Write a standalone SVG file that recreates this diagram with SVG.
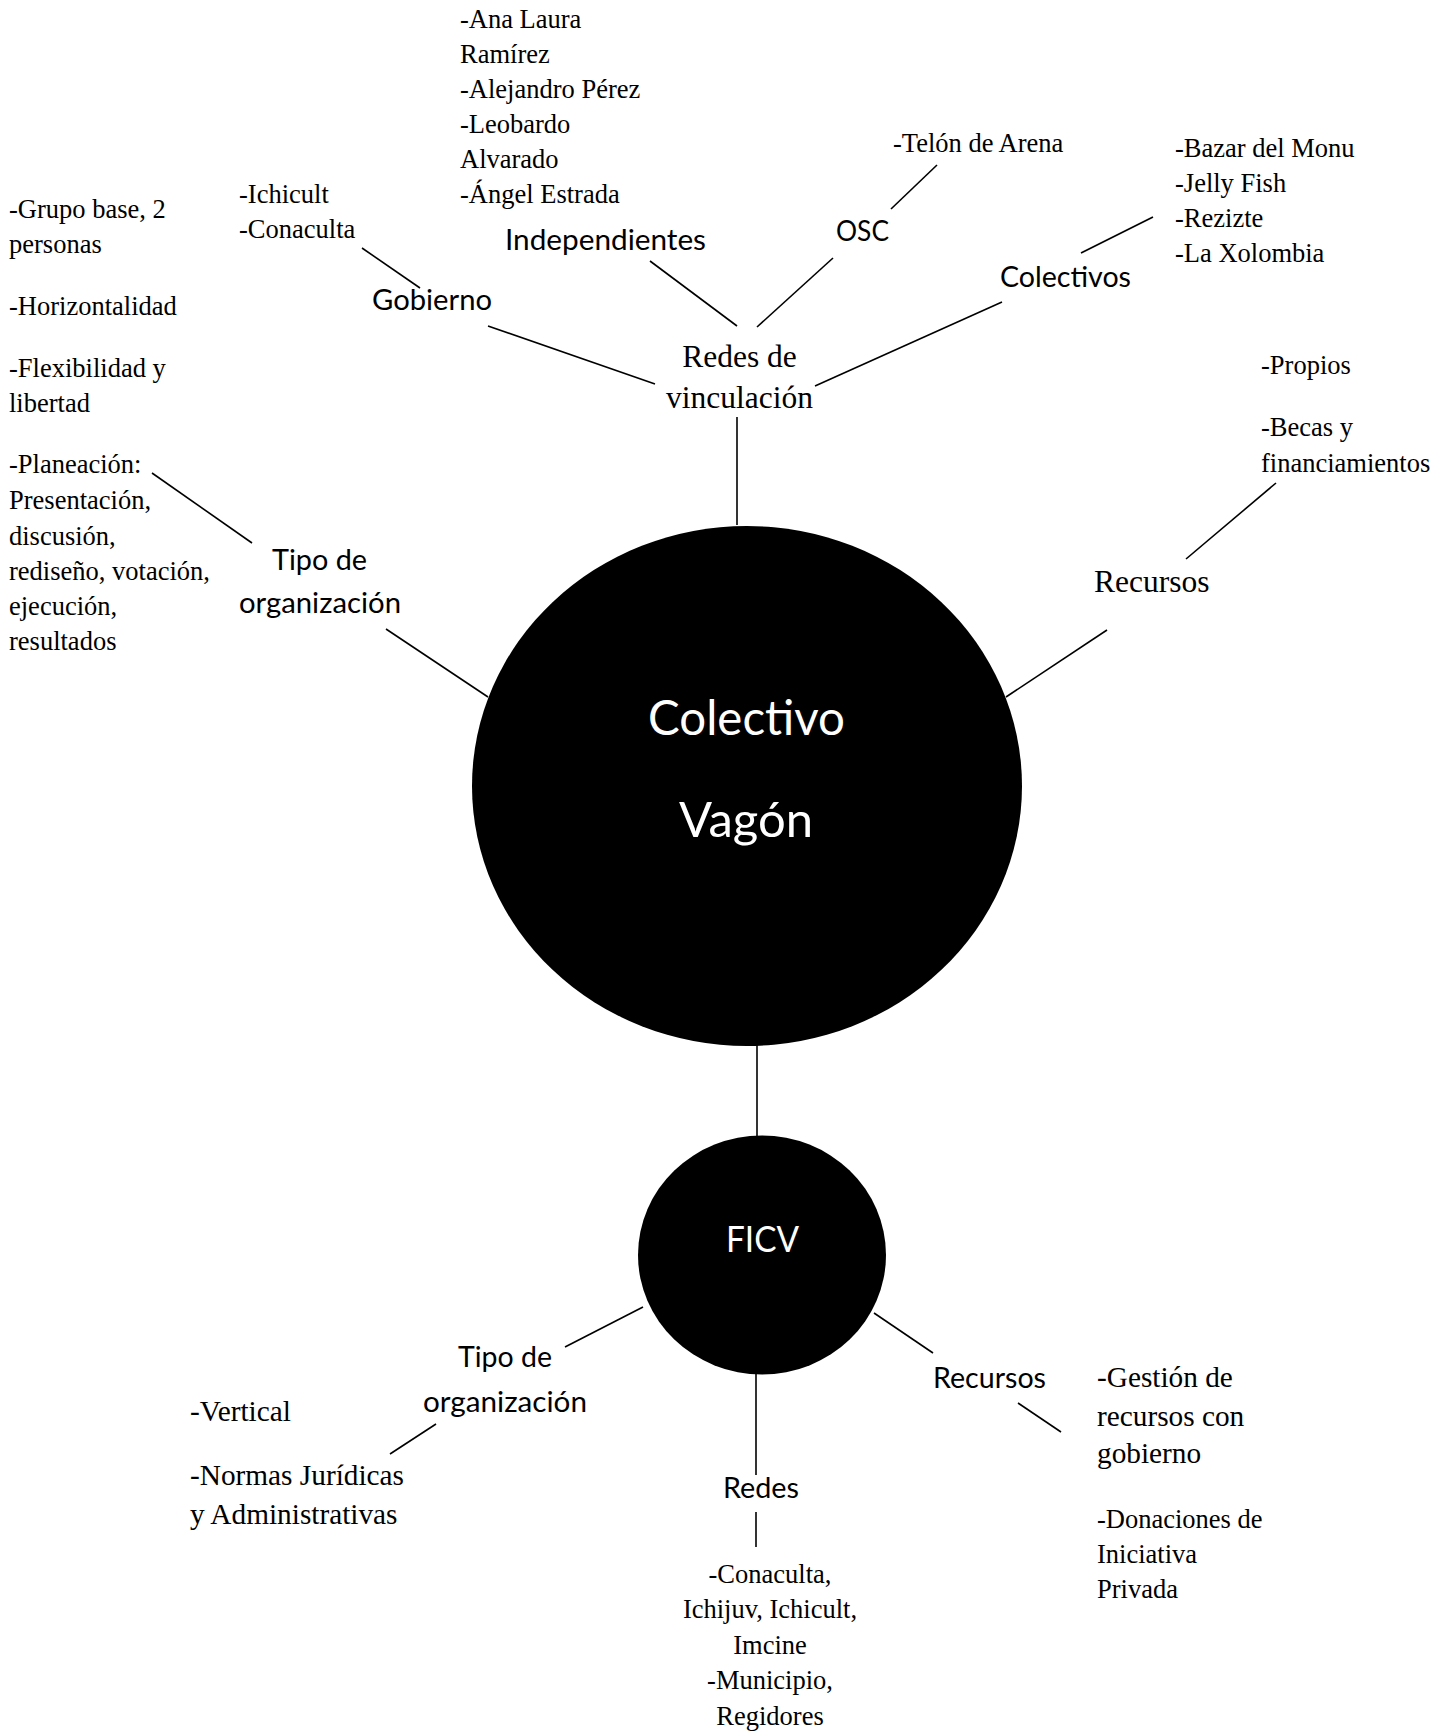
<svg xmlns="http://www.w3.org/2000/svg" width="1449" height="1733" viewBox="0 0 1449 1733">
  <style>
    .bg { fill: #ffffff; }
    .hub { fill: #000000; }
    .link { stroke: #000000; stroke-width: 1.6; fill: none; }
    .note { font-family: "Liberation Serif", "Times New Roman", serif; font-size: 26.5px; fill: #000000; }
    .note-md { font-family: "Liberation Serif", "Times New Roman", serif; font-size: 29.3px; fill: #000000; }
    .label-serif { font-family: "Liberation Serif", "Times New Roman", serif; font-size: 31.5px; fill: #000000; }
    .label { font-family: Lato, "Open Sans", sans-serif; font-size: 29px; fill: #000000; }
    .hub-title { font-family: Lato, "Open Sans", sans-serif; font-size: 48px; fill: #ffffff; }
    .hub-sub { font-family: Lato, "Open Sans", sans-serif; font-size: 36px; fill: #ffffff; }
    .mid { text-anchor: middle; }
  </style>

  <rect class="bg" x="0" y="0" width="1449" height="1733"/>

  <!-- connectors -->
  <g id="connectors">
    <line class="link" x1="737" y1="417" x2="737" y2="525"/>
    <line class="link" x1="488" y1="326" x2="655" y2="384"/>
    <line class="link" x1="362" y1="248" x2="420" y2="288"/>
    <line class="link" x1="650" y1="261" x2="737" y2="326"/>
    <line class="link" x1="833" y1="258" x2="757" y2="327"/>
    <line class="link" x1="937" y1="165" x2="891" y2="209"/>
    <line class="link" x1="1002" y1="302" x2="815" y2="386"/>
    <line class="link" x1="1153" y1="217" x2="1081" y2="253"/>
    <line class="link" x1="1276" y1="483" x2="1186" y2="559"/>
    <line class="link" x1="1107" y1="630" x2="1006" y2="697"/>
    <line class="link" x1="152" y1="473" x2="252" y2="543"/>
    <line class="link" x1="386" y1="629" x2="488" y2="697"/>
    <line class="link" x1="757" y1="1044" x2="757" y2="1137"/>
    <line class="link" x1="643" y1="1307" x2="565" y2="1347"/>
    <line class="link" x1="436" y1="1424" x2="390" y2="1454"/>
    <line class="link" x1="756" y1="1372" x2="756" y2="1475"/>
    <line class="link" x1="756" y1="1512" x2="756" y2="1547"/>
    <line class="link" x1="874" y1="1313" x2="933" y2="1353"/>
    <line class="link" x1="1018" y1="1403" x2="1061" y2="1432"/>
  </g>

  <!-- central hub -->
  <g id="colectivo-vagon">
    <ellipse class="hub" cx="747" cy="786" rx="275" ry="260"/>
    <text class="hub-title" x="648" y="735" textLength="197" lengthAdjust="spacingAndGlyphs">Colectivo</text>
    <text class="hub-title" x="679" y="837" textLength="134" lengthAdjust="spacingAndGlyphs">Vagón</text>
  </g>

  <g id="ficv">
    <ellipse class="hub" cx="762" cy="1255" rx="124" ry="119.5"/>
    <text class="hub-sub" x="726" y="1252" textLength="73" lengthAdjust="spacingAndGlyphs">FICV</text>
  </g>

  <!-- networks branch -->
  <g id="redes-vinculacion">
    <text class="label-serif mid" x="739.5" y="367">Redes de</text>
    <text class="label-serif mid" x="739.5" y="408">vinculación</text>
  </g>

  <g id="gobierno">
    <text class="label" x="372" y="310" textLength="120" lengthAdjust="spacingAndGlyphs">Gobierno</text>
  </g>
  <g id="gobierno-items">
    <text class="note" x="239" y="203">-Ichicult</text>
    <text class="note" x="239" y="238">-Conaculta</text>
  </g>

  <g id="independientes">
    <text class="label" x="505" y="250" textLength="201" lengthAdjust="spacingAndGlyphs">Independientes</text>
  </g>
  <g id="independientes-items">
    <text class="note" x="460" y="27.5">-Ana Laura</text>
    <text class="note" x="460" y="63">Ramírez</text>
    <text class="note" x="460" y="98">-Alejandro Pérez</text>
    <text class="note" x="460" y="133">-Leobardo</text>
    <text class="note" x="460" y="168">Alvarado</text>
    <text class="note" x="460" y="203">-Ángel Estrada</text>
  </g>

  <g id="osc">
    <text class="label" x="836" y="241" textLength="53" lengthAdjust="spacingAndGlyphs">OSC</text>
  </g>
  <g id="osc-items">
    <text class="note" x="893" y="152">-Telón de Arena</text>
  </g>

  <g id="colectivos">
    <text class="label" x="1000" y="287" textLength="131" lengthAdjust="spacingAndGlyphs">Colectivos</text>
  </g>
  <g id="colectivos-items">
    <text class="note" x="1175" y="157">-Bazar del Monu</text>
    <text class="note" x="1175" y="192">-Jelly Fish</text>
    <text class="note" x="1175" y="227">-Rezizte</text>
    <text class="note" x="1175" y="262">-La Xolombia</text>
  </g>

  <!-- resources branch -->
  <g id="recursos">
    <text class="label-serif" x="1094" y="592">Recursos</text>
  </g>
  <g id="recursos-items">
    <text class="note" x="1261" y="374">-Propios</text>
    <text class="note" x="1261" y="436">-Becas y</text>
    <text class="note" x="1261" y="472">financiamientos</text>
  </g>

  <!-- organisation branch -->
  <g id="tipo-organizacion">
    <text class="label" x="272" y="570" textLength="95" lengthAdjust="spacingAndGlyphs">Tipo de</text>
    <text class="label" x="239" y="613" textLength="162" lengthAdjust="spacingAndGlyphs">organización</text>
  </g>
  <g id="tipo-organizacion-items">
    <text class="note" x="9" y="218">-Grupo base, 2</text>
    <text class="note" x="9" y="253">personas</text>
    <text class="note" x="9" y="315">-Horizontalidad</text>
    <text class="note" x="9" y="377">-Flexibilidad y</text>
    <text class="note" x="9" y="412">libertad</text>
    <text class="note" x="9" y="473">-Planeación:</text>
    <text class="note" x="9" y="509">Presentación,</text>
    <text class="note" x="9" y="545">discusión,</text>
    <text class="note" x="9" y="580">rediseño, votación,</text>
    <text class="note" x="9" y="615">ejecución,</text>
    <text class="note" x="9" y="650">resultados</text>
  </g>

  <!-- FICV branches -->
  <g id="ficv-tipo-organizacion">
    <text class="label" x="458" y="1367" textLength="94" lengthAdjust="spacingAndGlyphs">Tipo de</text>
    <text class="label" x="423" y="1412" textLength="164" lengthAdjust="spacingAndGlyphs">organización</text>
  </g>
  <g id="ficv-tipo-organizacion-items">
    <text class="note-md" x="190" y="1421">-Vertical</text>
    <text class="note-md" x="190" y="1485">-Normas Jurídicas</text>
    <text class="note-md" x="190" y="1524">y Administrativas</text>
  </g>

  <g id="ficv-redes">
    <text class="label" x="723" y="1498" textLength="76" lengthAdjust="spacingAndGlyphs">Redes</text>
  </g>
  <g id="ficv-redes-items">
    <text class="note mid" x="770" y="1583">-Conaculta,</text>
    <text class="note mid" x="770" y="1618">Ichijuv, Ichicult,</text>
    <text class="note mid" x="770" y="1654">Imcine</text>
    <text class="note mid" x="770" y="1689">-Municipio,</text>
    <text class="note mid" x="770" y="1725">Regidores</text>
  </g>

  <g id="ficv-recursos">
    <text class="label" x="933" y="1388" textLength="113" lengthAdjust="spacingAndGlyphs">Recursos</text>
  </g>
  <g id="ficv-recursos-items">
    <text class="note-md" x="1097" y="1387">-Gestión de</text>
    <text class="note-md" x="1097" y="1426">recursos con</text>
    <text class="note-md" x="1097" y="1463">gobierno</text>
    <text class="note" x="1097" y="1528">-Donaciones de</text>
    <text class="note" x="1097" y="1563">Iniciativa</text>
    <text class="note" x="1097" y="1598">Privada</text>
  </g>
</svg>
